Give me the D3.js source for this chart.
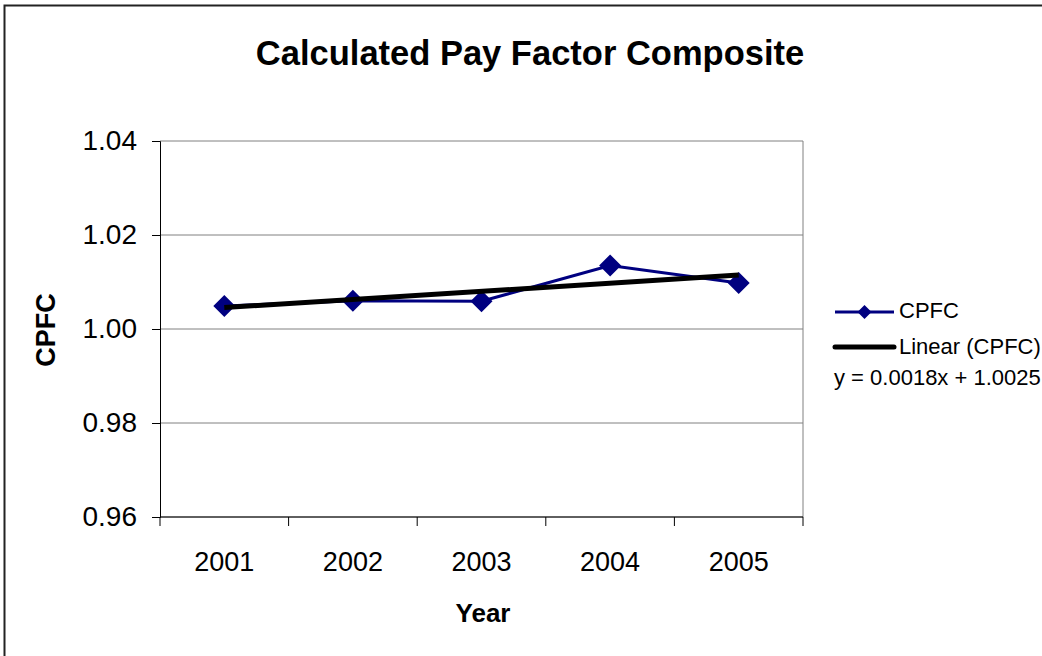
<!DOCTYPE html>
<html>
<head>
<meta charset="utf-8">
<script src="https://cdn.jsdelivr.net/npm/d3@7"></script>
<style>
  html, body { margin: 0; padding: 0; background: #fff; }
  svg { display: block; font-family: "Liberation Sans", Arial, sans-serif; }
</style>
</head>
<body>
<svg id="chart" width="1042" height="656"></svg>
<script>
// ---- Data ----
const years = ["2001", "2002", "2003", "2004", "2005"];
const cpfc = [1.0049, 1.0060, 1.0059, 1.0135, 1.0098];
const yTicks = [0.96, 0.98, 1.00, 1.02, 1.04];
const trendLabel = "y = 0.0018x + 1.0025";
const seriesName = "CPFC";
const trendName = "Linear (CPFC)";

// ---- Layout ----
const W = 1042, H = 656;
const plot = { left: 160, right: 803, top: 141, bottom: 517 };

const svg = d3.select("#chart");
svg.append("rect").attr("width", W).attr("height", H).attr("fill", "#fff");

// outer chart border (left + top visible)
svg.append("path")
  .attr("d", `M4.5,${H} V5.5 H${W}`)
  .attr("fill", "none").attr("stroke", "#222").attr("stroke-width", 2);

const x = d3.scaleBand().domain(years).range([plot.left, plot.right]).padding(0);
const y = d3.scaleLinear().domain([0.96, 1.04]).range([plot.bottom, plot.top]);

// gridlines
svg.append("g").selectAll("line").data(yTicks).join("line")
  .attr("x1", plot.left).attr("x2", plot.right)
  .attr("y1", d => y(d)).attr("y2", d => y(d))
  .attr("stroke", "#808080").attr("stroke-width", 1);

// plot area right border
svg.append("line")
  .attr("x1", plot.right).attr("x2", plot.right)
  .attr("y1", plot.top).attr("y2", plot.bottom)
  .attr("stroke", "#808080").attr("stroke-width", 1);

// y axis
const yAxis = d3.axisLeft(y).tickValues(yTicks).tickFormat(d3.format(".2f")).tickSize(8).tickPadding(15);
const gy = svg.append("g").attr("transform", `translate(${plot.left},0)`).call(yAxis);
gy.select(".domain").attr("stroke", "#000");
gy.selectAll(".tick line").attr("stroke", "#000");
gy.selectAll(".tick text")
  .attr("font-family", "Liberation Sans, Arial, sans-serif")
  .attr("font-size", 28).attr("fill", "#000");

// x axis: labels at centers, ticks at boundaries
const gx = svg.append("g").attr("transform", `translate(0,${plot.bottom})`);
gx.append("line").attr("x1", plot.left).attr("x2", plot.right)
  .attr("y1", 0).attr("y2", 0).attr("stroke", "#000");
const bounds = years.map(d => x(d)).concat([x(years[years.length - 1]) + x.step()]);
gx.selectAll("line.tk").data(bounds).join("line").attr("class", "tk")
  .attr("x1", d => d).attr("x2", d => d).attr("y1", 0).attr("y2", 9)
  .attr("stroke", "#000");
gx.selectAll("text").data(years).join("text")
  .attr("x", d => x(d) + x.bandwidth() / 2)
  .attr("y", 54)
  .attr("text-anchor", "middle")
  .attr("font-size", 27).attr("fill", "#000")
  .text(d => d);

// title and axis titles
svg.append("text").attr("x", 530).attr("y", 65).attr("text-anchor", "middle")
  .attr("font-size", 34.5).attr("font-weight", "bold").text("Calculated Pay Factor Composite");
svg.append("text").attr("x", 483).attr("y", 622).attr("text-anchor", "middle")
  .attr("font-size", 26).attr("font-weight", "bold").text("Year");
svg.append("text").attr("transform", "translate(55,330) rotate(-90)").attr("text-anchor", "middle")
  .attr("font-size", 27).attr("font-weight", "bold").text("CPFC");

// data
const pts = years.map((d, i) => ({ cx: x(d) + x.bandwidth() / 2, v: cpfc[i] }));
const line = d3.line().x(d => d.cx).y(d => y(d.v));
svg.append("path").datum(pts).attr("d", line)
  .attr("fill", "none").attr("stroke", "#000080").attr("stroke-width", 3);

const diamond = (cx, cy, r) => `M${cx},${cy - r} L${cx + r},${cy} L${cx},${cy + r} L${cx - r},${cy} Z`;
svg.append("g").selectAll("path").data(pts).join("path")
  .attr("d", d => diamond(d.cx, y(d.v), 11))
  .attr("fill", "#000080");

// linear trend (least squares on x = 1..n)
const n = cpfc.length;
const xs = d3.range(1, n + 1);
const mx = d3.mean(xs), my = d3.mean(cpfc);
const slope = d3.sum(xs.map((xi, i) => (xi - mx) * (cpfc[i] - my))) / d3.sum(xs.map(xi => (xi - mx) ** 2));
const icpt = my - slope * mx;
const trendPts = [xs[0], xs[n - 1]].map(xi => ({ cx: x(years[xi - 1]) + x.bandwidth() / 2, v: icpt + slope * xi }));
svg.append("path").datum(trendPts).attr("d", line)
  .attr("fill", "none").attr("stroke", "#000").attr("stroke-width", 5);

// legend
const lg = svg.append("g");
lg.append("line").attr("x1", 835).attr("x2", 894).attr("y1", 312).attr("y2", 312)
  .attr("stroke", "#000080").attr("stroke-width", 3);
lg.append("path").attr("d", diamond(864.5, 312, 7)).attr("fill", "#000080");
lg.append("text").attr("x", 899).attr("y", 318).attr("font-size", 22).text(seriesName);
lg.append("line").attr("x1", 835).attr("x2", 894).attr("y1", 347).attr("y2", 347)
  .attr("stroke", "#000").attr("stroke-width", 5).attr("stroke-linecap", "round");
lg.append("text").attr("x", 899).attr("y", 354).attr("font-size", 22).text(trendName);
lg.append("text").attr("x", 834).attr("y", 385).attr("font-size", 22).text(trendLabel);
</script>
</body>
</html>
